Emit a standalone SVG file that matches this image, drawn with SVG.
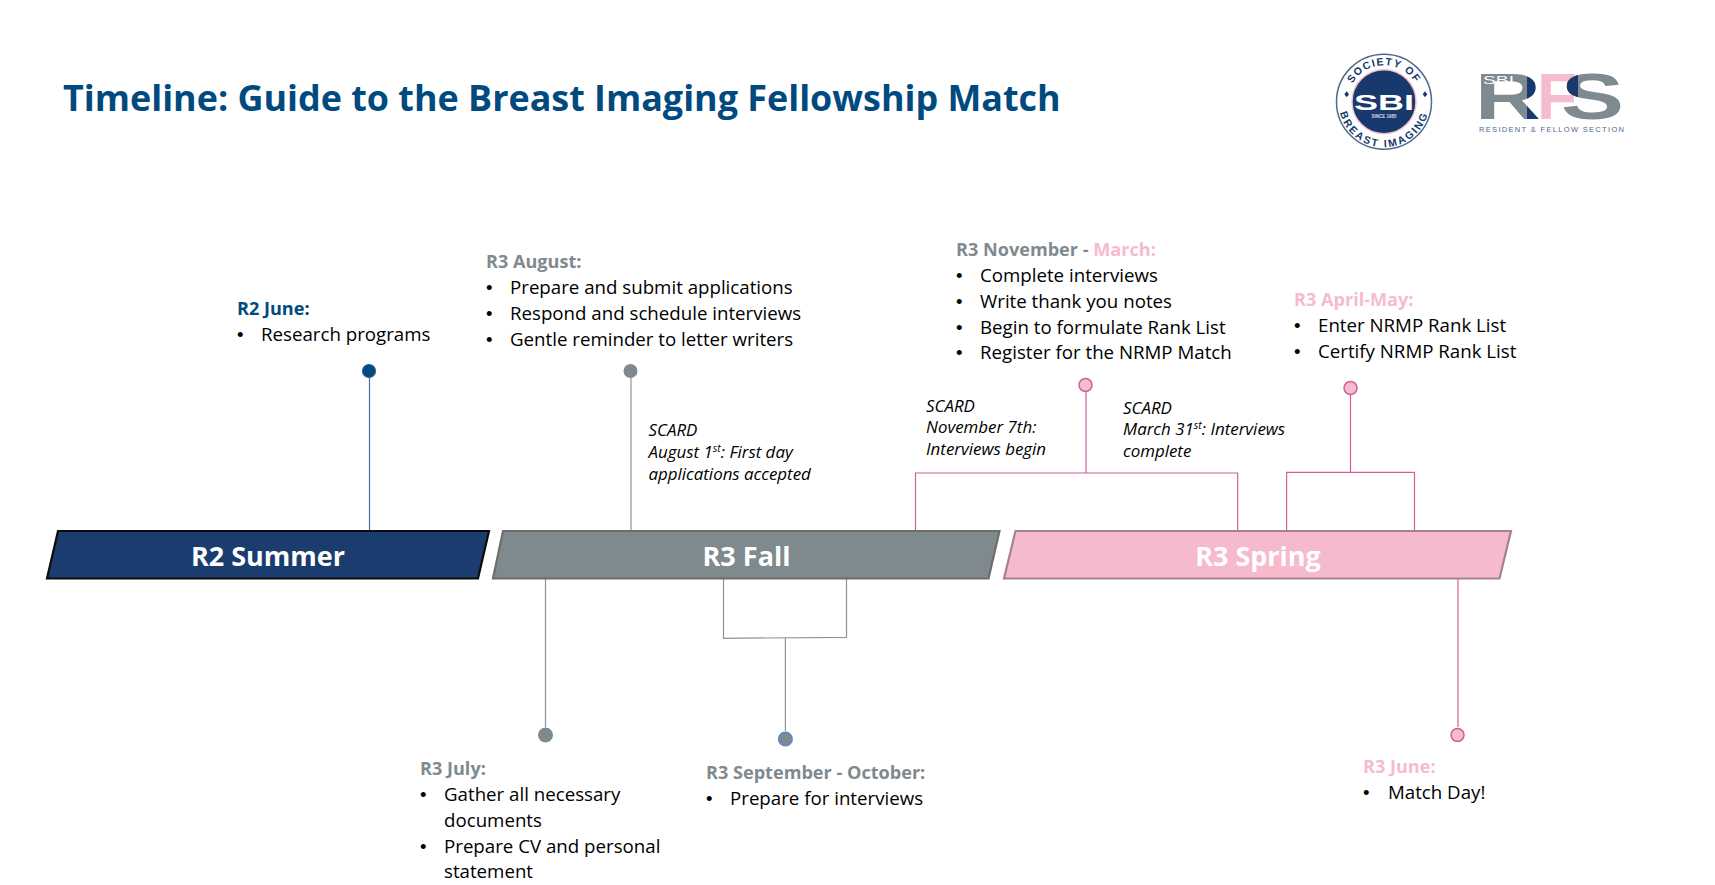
<svg xmlns="http://www.w3.org/2000/svg" width="1715" height="885" viewBox="0 0 1715 885">
<style>
text{font-family:"Open Sans","Liberation Sans",sans-serif}
.t{font-size:18.700px;fill:#000}
.d{font-size:18.500px;fill:#000;font-family:"Liberation Sans",sans-serif}
.hn{font-size:18.100px;font-weight:700;fill:#004a80}
.hg{font-size:18.100px;font-weight:700;fill:#7f8a90}
.hp{font-size:18.100px;font-weight:700;fill:#f6bbcd}
.s{font-size:16.900px;font-style:italic;fill:#000}
.b{font-size:27px;font-weight:700;fill:#fff;text-anchor:middle}
.ln{fill:none;stroke-width:1.2}
.lg{stroke:#8a949c}.lb{stroke:#4a6fa5}.lp{stroke:#d0609c}
.logo{font-family:"Liberation Sans",sans-serif;font-weight:700}
</style>
<defs>
<path id="arcTop" d="M1347.500 101.700A36.500 36.500 0 0 1 1420.500 101.700"/>
<path id="arcBot" d="M1338.500 101.700A45.500 45.500 0 0 0 1429.500 101.700"/>
<clipPath id="rl"><rect x="1470" y="70" width="57" height="55"/></clipPath>
<clipPath id="rr"><rect x="1527" y="70" width="30" height="55"/></clipPath>
<clipPath id="sl"><rect x="1555" y="70" width="23" height="32"/></clipPath>
</defs>
<rect width="1715" height="885" fill="#fff"/>
<text id="title" x="63" y="111" style="font-size:35.900px;font-weight:700;fill:#004a80">Timeline: Guide to the Breast Imaging Fellowship Match</text>

<g id="logo-sbi">
<circle cx="1384" cy="101.700" r="47.500" fill="#fff" stroke="#4d6a8f" stroke-width="1.500"/>
<circle cx="1384" cy="101.700" r="32" fill="#17396d" stroke="#f4bdcd" stroke-width="1.500"/>
<text class="logo" font-size="10.500" fill="#17396d" letter-spacing="1.300" text-anchor="middle"><textPath href="#arcTop" startOffset="50%">SOCIETY OF</textPath></text>
<text class="logo" font-size="10.500" fill="#17396d" letter-spacing="2" text-anchor="middle"><textPath href="#arcBot" startOffset="50%">BREAST IMAGING</textPath></text>
<text class="logo" x="1384" y="109.500" font-size="22.500" fill="#fff" text-anchor="middle" textLength="60" lengthAdjust="spacingAndGlyphs">SBI</text>
<text class="logo" x="1384" y="117.500" font-size="4.500" fill="#d5dbe5" text-anchor="middle">SINCE 1985</text>
<path d="M1346.700 91.300L1349 94.300L1346.700 97.300L1344.400 94.300ZM1425 91.300L1427.300 94.300L1425 97.300L1422.700 94.300Z" fill="#17396d"/>
</g>

<g id="logo-rfs">
<text class="logo" x="1537" y="119" font-size="65" fill="#f6bbcd" textLength="40" lengthAdjust="spacingAndGlyphs">F</text>
<g clip-path="url(#rl)"><text class="logo" transform="translate(1475 119) scale(1.400 1)" font-size="65" fill="#7f8a90">R</text></g>
<g clip-path="url(#rr)"><text class="logo" transform="translate(1475 119) scale(1.400 1)" font-size="65" fill="#17396d">R</text></g>
<text class="logo" x="1561" y="119" font-size="65" fill="#7f8a90" textLength="63" lengthAdjust="spacingAndGlyphs">S</text>
<g clip-path="url(#sl)"><text class="logo" x="1561" y="119" font-size="65" fill="#17396d" textLength="63" lengthAdjust="spacingAndGlyphs">S</text></g>
<text class="logo" x="1483" y="83.500" font-size="11" style="font-weight:400" fill="#fff" textLength="31" lengthAdjust="spacingAndGlyphs">SBI</text>
<text class="logo" x="1479" y="131.500" font-size="7.500" style="font-weight:400" fill="#4d6a8f" textLength="145" lengthAdjust="spacing">RESIDENT &amp; FELLOW SECTION</text>
</g>

<g id="connectors">
<path class="ln lb" d="M369.500 378V531"/>
<path class="ln lg" d="M631 378V531"/>
<path class="ln lg" d="M545.500 579V727"/>
<path class="ln lg" d="M723.500 579V638.300L846.500 637.300V579M785.400 638V731"/>
<path class="ln lp" d="M915.500 531V473H1237.700V531M1086 392V473"/>
<path class="ln lp" d="M1286.600 531V472.300H1414.500V531M1350.500 395V472.300"/>
<path class="ln lp" d="M1458 575V727"/>
</g>

<g id="bar-r2-summer">
<path d="M58 531H489L478 578.500H47Z" fill="#1a3c6e" stroke="#0c0c0c" stroke-width="2.200"/>
<text class="b" x="268" y="566">R2 Summer</text>
</g>
<g id="bar-r3-fall">
<path d="M503 531H999.500L988.500 578.500H493Z" fill="#7f8a8f" stroke="#6d6d6d" stroke-width="2.200"/>
<text class="b" x="746.500" y="566">R3 Fall</text>
</g>
<g id="bar-r3-spring">
<path d="M1015.500 531H1511L1499.500 578.500H1004Z" fill="#f5bacc" stroke="#a8808f" stroke-width="2.200"/>
<text class="b" x="1258" y="566">R3 Spring</text>
</g>

<g id="node-r2-june">
<circle cx="369" cy="371" r="6.500" fill="#004a80" stroke="#2a5f9a" stroke-width="1.200"/>
<text class="hn" x="237" y="314.500">R2 June:</text>
<text class="d" x="237" y="340.500">•</text><text class="t" x="261" y="340.500">Research programs</text>
</g>
<g id="node-r3-august">
<circle cx="630.500" cy="371" r="7" fill="#7f8a90"/>
<text class="hg" x="486" y="268">R3 August:</text>
<text class="d" x="486" y="294">•</text><text class="t" x="510" y="294">Prepare and submit applications</text>
<text class="d" x="486" y="320">•</text><text class="t" x="510" y="320">Respond and schedule interviews</text>
<text class="d" x="486" y="346">•</text><text class="t" x="510" y="346">Gentle reminder to letter writers</text>
</g>
<g id="note-august">
<text class="s" x="648.500" y="436">SCARD</text>
<text class="s" x="648.500" y="458">August 1<tspan font-size="10.500" dy="-6">st</tspan><tspan dy="6">: First day</tspan></text>
<text class="s" x="648.500" y="480">applications accepted</text>
</g>
<g id="node-r3-july">
<circle cx="545.500" cy="735" r="7.500" fill="#7f8a90"/>
<text class="hg" x="420" y="775">R3 July:</text>
<text class="d" x="420" y="801">•</text><text class="t" x="444" y="801">Gather all necessary</text>
<text class="t" x="444" y="827">documents</text>
<text class="d" x="420" y="853">•</text><text class="t" x="444" y="853">Prepare CV and personal</text>
<text class="t" x="444" y="878">statement</text>
</g>
<g id="node-r3-sep-oct">
<circle cx="785.400" cy="739" r="6.800" fill="#7f8a90" stroke="#5b87c5" stroke-width="1.500"/>
<text class="hg" x="706" y="779">R3 September - October:</text>
<text class="d" x="706" y="805">•</text><text class="t" x="730" y="805">Prepare for interviews</text>
</g>
<g id="node-r3-nov-mar">
<circle cx="1085.500" cy="385" r="6.500" fill="#f6bbcd" stroke="#d0609c" stroke-width="1.500"/>
<text x="956" y="255.500" style="font-size:18.100px;font-weight:700"><tspan fill="#7f8a90">R3 November - </tspan><tspan fill="#f6bbcd">March:</tspan></text>
<text class="d" x="956" y="282">•</text><text class="t" x="980" y="282">Complete interviews</text>
<text class="d" x="956" y="308">•</text><text class="t" x="980" y="308">Write thank you notes</text>
<text class="d" x="956" y="334">•</text><text class="t" x="980" y="334">Begin to formulate Rank List</text>
<text class="d" x="956" y="359">•</text><text class="t" x="980" y="359">Register for the NRMP Match</text>
</g>
<g id="note-november">
<text class="s" x="926" y="412">SCARD</text>
<text class="s" x="926" y="433">November 7th:</text>
<text class="s" x="926" y="455">Interviews begin</text>
</g>
<g id="note-march">
<text class="s" x="1123" y="414">SCARD</text>
<text class="s" x="1123" y="435">March 31<tspan font-size="10.500" dy="-6">st</tspan><tspan dy="6">: Interviews</tspan></text>
<text class="s" x="1123" y="457">complete</text>
</g>
<g id="node-r3-april-may">
<circle cx="1350.500" cy="388" r="6.500" fill="#f6bbcd" stroke="#d0609c" stroke-width="1.500"/>
<text class="hp" x="1294" y="306">R3 April-May:</text>
<text class="d" x="1294" y="332">•</text><text class="t" x="1318" y="332">Enter NRMP Rank List</text>
<text class="d" x="1294" y="358">•</text><text class="t" x="1318" y="358">Certify NRMP Rank List</text>
</g>
<g id="node-r3-june">
<circle cx="1457.500" cy="735" r="6.500" fill="#f6bbcd" stroke="#d0609c" stroke-width="1.500"/>
<text class="hp" x="1363" y="773">R3 June:</text>
<text class="d" x="1363" y="799">•</text><text class="t" x="1388" y="799">Match Day!</text>
</g>
</svg>
